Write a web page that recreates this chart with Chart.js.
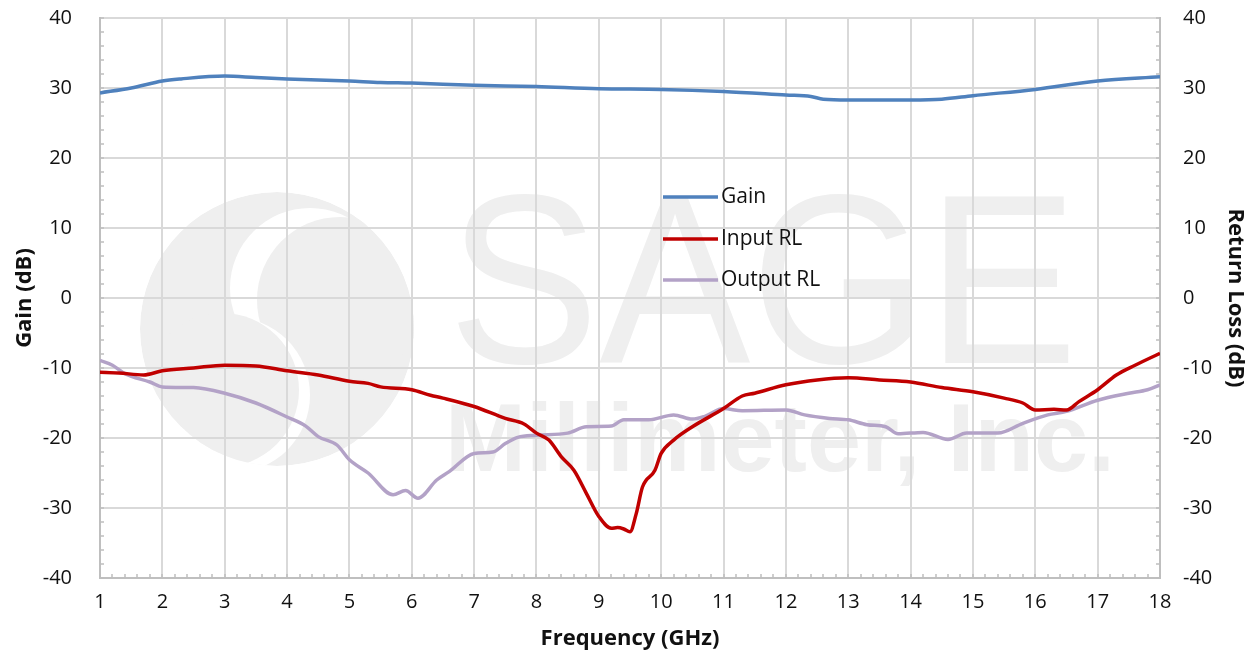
<!DOCTYPE html>
<html>
<head>
<meta charset="utf-8">
<script src="https://cdn.jsdelivr.net/npm/chart.js@4.4.1/dist/chart.umd.min.js"></script>
<style>
  body { margin: 0; background: #fff; }
  #wrap { width: 1250px; height: 654px; }
</style>
</head>
<body>
<div id="wrap"><canvas id="myChart" width="1250" height="654"></canvas></div>
<script>
// frequency (GHz) / level (dB)
const gainFreq = [1, 1.5, 2, 2.3, 3, 3.5, 4, 5, 5.5, 6, 7, 8, 9, 10, 11, 12, 12.4, 12.6, 13, 14, 14.5, 15, 16, 17, 18];
const gainVals = [29.3, 30.0, 31.0, 31.3, 31.7, 31.5, 31.3, 31.0, 30.8, 30.7, 30.4, 30.2, 29.9, 29.8, 29.5, 29.0, 28.8, 28.4, 28.3, 28.3, 28.4, 28.9, 29.8, 31.0, 31.6];

const inFreq = [1, 1.3, 1.7, 2, 2.5, 3, 3.5, 4, 4.5, 5, 5.3, 5.5, 6, 6.3, 6.5, 7, 7.5, 7.8, 8, 8.2, 8.4, 8.6, 8.8, 9, 9.2, 9.3, 9.4, 9.5, 9.6, 9.7, 9.9, 10, 10.2, 10.5, 11, 11.3, 11.5, 12, 12.5, 13, 13.5, 14, 14.5, 15, 15.5, 15.8, 16, 16.3, 16.5, 16.7, 17, 17.3, 17.6, 18];
const inVals = [-10.6, -10.7, -11.0, -10.4, -10.0, -9.6, -9.7, -10.4, -11.0, -11.9, -12.2, -12.7, -13.1, -13.9, -14.3, -15.5, -17.2, -18.0, -19.3, -20.3, -22.7, -24.6, -27.9, -31.2, -32.9, -32.8, -33.0, -33.4, -30.8, -27.0, -24.6, -22.2, -20.3, -18.4, -15.8, -14.0, -13.6, -12.4, -11.7, -11.4, -11.7, -12.0, -12.8, -13.4, -14.3, -15.0, -16.0, -15.9, -16.0, -14.8, -13.1, -11.0, -9.6, -7.9];

const outFreq = [1, 1.2, 1.4, 1.8, 2, 2.5, 3, 3.5, 4, 4.3, 4.5, 4.8, 5, 5.3, 5.7, 5.9, 6.1, 6.4, 6.6, 7, 7.3, 7.5, 7.7, 8, 8.5, 8.8, 9.2, 9.4, 9.8, 10.2, 10.5, 10.7, 11, 11.3, 12, 12.3, 12.7, 13, 13.3, 13.6, 13.8, 14.2, 14.6, 14.9, 15.4, 15.8, 16.2, 16.5, 17, 17.5, 17.8, 18];
const outVals = [-8.9, -9.6, -10.8, -12.0, -12.7, -12.8, -13.6, -15.0, -17.0, -18.3, -19.8, -21.0, -23.1, -25.0, -28.1, -27.5, -28.6, -26.0, -24.8, -22.2, -22.0, -20.8, -19.9, -19.6, -19.3, -18.4, -18.3, -17.4, -17.4, -16.7, -17.3, -16.9, -15.8, -16.1, -16.0, -16.7, -17.2, -17.4, -18.1, -18.4, -19.4, -19.2, -20.2, -19.3, -19.3, -17.9, -16.7, -16.2, -14.6, -13.6, -13.1, -12.4];

const seriesNames = ['Gain', 'Input RL', 'Output RL'];
const seriesColors = ['#4f81bd', '#c00000', '#b3a2c7'];

const toPts = (xs, ys) => xs.map((x, i) => ({ x: x, y: ys[i] }));

const tickFont = { family: 'Open Sans', size: 20 };
const titleFont = { family: 'Open Sans', size: 22, weight: 'bold' };
const ink = '#111';

function disc(ctx, cx, cy, r, col) {
  ctx.fillStyle = col;
  ctx.beginPath(); ctx.arc(cx, cy, r, 0, Math.PI * 2); ctx.fill();
}

// faint company watermark, sits under the grid
const watermark = {
  id: 'watermark',
  beforeDraw(chart) {
    const ctx = chart.ctx;
    const grey = '#efefef';
    ctx.save();
    ctx.beginPath(); ctx.arc(277, 329, 137, 0, Math.PI * 2); ctx.clip();
    disc(ctx, 277, 329, 137, grey);
    disc(ctx, 310, 288, 80, '#fff');
    disc(ctx, 340, 300, 83, grey);
    disc(ctx, 232, 395, 78, '#fff');
    disc(ctx, 222, 390, 77, grey);
    ctx.restore();

    ctx.save();
    ctx.fillStyle = grey;
    ctx.textBaseline = 'alphabetic';
    ctx.textAlign = 'left';
    ctx.font = '242px "Liberation Sans"';
    let w = ctx.measureText('SAGE').width;
    ctx.translate(448, 363);
    ctx.scale(630 / w, 1);
    ctx.fillText('SAGE', 0, 0);
    ctx.restore();

    ctx.save();
    ctx.fillStyle = grey;
    ctx.font = 'bold 96px "Liberation Sans"';
    w = ctx.measureText('Millimeter, Inc.').width;
    ctx.translate(445, 471);
    ctx.scale(670 / w, 1);
    ctx.fillText('Millimeter, Inc.', 0, 0);
    ctx.restore();
  }
};

// short inside minor ticks
const minorTicks = {
  id: 'minorTicks',
  beforeDatasetsDraw(chart) {
    const { ctx, scales } = chart;
    const x = scales.x, y = scales.y;
    ctx.save();
    ctx.strokeStyle = '#bfbfbf';
    ctx.lineWidth = 1.5;
    ctx.beginPath();
    for (let f = 1; f <= 18.001; f += 0.2) {
      const px = Math.round(x.getPixelForValue(f));
      ctx.moveTo(px, y.bottom); ctx.lineTo(px, y.bottom - 4);
    }
    for (let v = -40; v <= 40; v += 2) {
      const py = Math.round(y.getPixelForValue(v));
      ctx.moveTo(x.left, py); ctx.lineTo(x.left + 4, py);
      ctx.moveTo(x.right, py); ctx.lineTo(x.right - 4, py);
    }
    ctx.stroke();
    ctx.restore();
  }
};

const legendBox = {
  id: 'legendBox',
  afterDatasetsDraw(chart) {
    const ctx = chart.ctx;
    ctx.save();
    ctx.font = '21px "Open Sans"';
    ctx.textBaseline = 'middle';
    ctx.textAlign = 'left';
    const rows = [197, 239, 280];
    seriesNames.forEach((name, i) => {
      ctx.strokeStyle = seriesColors[i];
      ctx.lineWidth = 3.5;
      ctx.beginPath();
      ctx.moveTo(663, rows[i]); ctx.lineTo(718, rows[i]);
      ctx.stroke();
      ctx.fillStyle = ink;
      ctx.fillText(name, 721, rows[i]);
    });
    ctx.restore();
  }
};

const mkSet = (label, pts, color, axis) => ({
  label: label,
  data: pts,
  borderColor: color,
  backgroundColor: color,
  borderWidth: 3.5,
  pointRadius: 0,
  tension: 0.4,
  cubicInterpolationMode: 'monotone',
  yAxisID: axis
});

new Chart(document.getElementById('myChart'), {
  type: 'line',
  data: {
    datasets: [
      mkSet(seriesNames[0], toPts(gainFreq, gainVals), seriesColors[0], 'y'),
      mkSet(seriesNames[1], toPts(inFreq, inVals), seriesColors[1], 'y1'),
      mkSet(seriesNames[2], toPts(outFreq, outVals), seriesColors[2], 'y1')
    ]
  },
  options: {
    responsive: false,
    animation: false,
    layout: { padding: { top: 18, left: 0, right: 0, bottom: 0 } },
    plugins: { legend: { display: false }, tooltip: { enabled: false } },
    scales: {
      x: {
        type: 'linear', min: 1, max: 18,
        afterFit: s => { s.height = 76; },
        ticks: { stepSize: 1, color: ink, font: tickFont, padding: 12, maxRotation: 0 },
        grid: { color: '#d9d9d9', lineWidth: 2, drawTicks: false },
        border: { color: '#bfbfbf', width: 2 },
        title: { display: true, text: 'Frequency (GHz)', color: ink, font: titleFont, padding: { top: 0, bottom: 2 } }
      },
      y: {
        position: 'left', min: -40, max: 40,
        afterFit: s => { s.width = 100; },
        ticks: { stepSize: 10, color: ink, font: tickFont, padding: 0 },
        grid: { color: '#d9d9d9', lineWidth: 2, drawTicks: true, tickLength: 28, tickColor: 'rgba(0,0,0,0)' },
        border: { color: '#bfbfbf', width: 2 },
        title: { display: true, text: 'Gain (dB)', color: ink, font: titleFont, padding: { top: 12, bottom: 0 } }
      },
      y1: {
        position: 'right', min: -40, max: 40,
        afterFit: s => { s.width = 90; },
        ticks: { stepSize: 10, color: ink, font: tickFont, padding: 0 },
        grid: { display: false, drawTicks: true, tickLength: 23 },
        border: { color: '#bfbfbf', width: 2 },
        title: { display: true, text: 'Return Loss (dB)', color: ink, font: titleFont, padding: { top: 2, bottom: 0 } }
      }
    }
  },
  plugins: [watermark, minorTicks, legendBox]
});
</script>
</body>
</html>
